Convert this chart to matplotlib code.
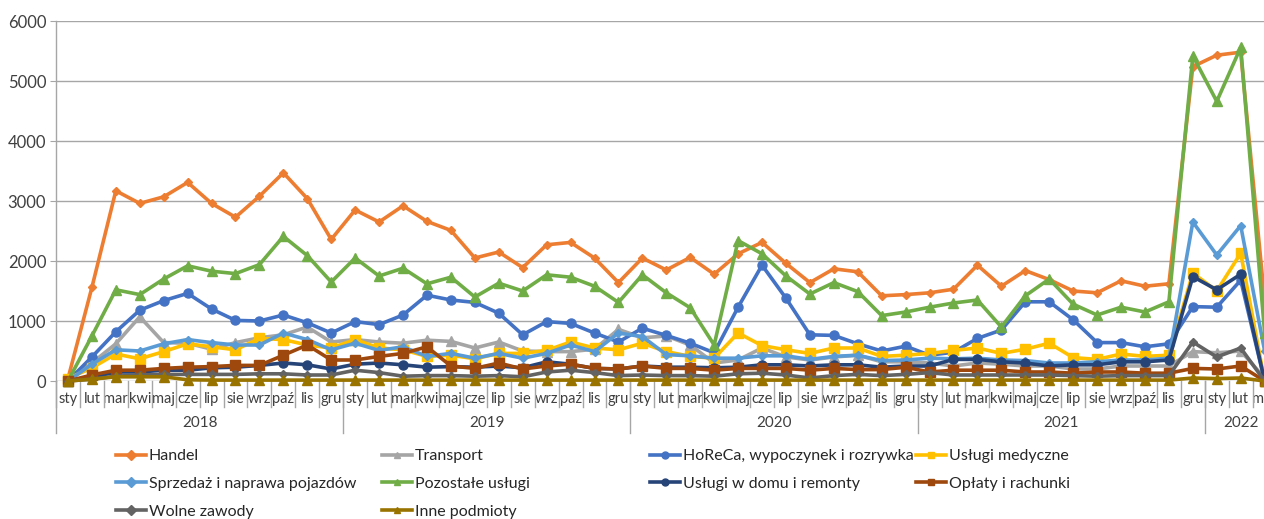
import matplotlib
matplotlib.use("Agg")
import matplotlib.pyplot as plt
from matplotlib.lines import Line2D

plt.rcParams['font.family'] = ['Lato', 'DejaVu Sans']

months = ["sty", "lut", "mar", "kwi", "maj", "cze", "lip", "sie", "wrz", "paź", "lis", "gru"]
years = ["2018", "2019", "2020", "2021", "2022"]
months_per_year = [12, 12, 12, 12, 3]
month_labels = months * 4 + ["sty", "lut", "mar"]

handel = [40, 1560, 3170, 2960, 3070, 3310, 2960, 2730, 3080, 3470, 3040, 2360,
          2850, 2650, 2920, 2660, 2510, 2050, 2150, 1890, 2270, 2310, 2050, 1640,
          2050, 1850, 2060, 1780, 2120, 2310, 1960, 1640, 1870, 1820, 1420, 1440,
          1470, 1530, 1930, 1580, 1840, 1690, 1500, 1470, 1670, 1580, 1620, 5240,
          5430, 5480, 1350]
transport = [0, 300, 620, 1070, 640, 630, 530, 640, 720, 770, 900, 650,
             690, 650, 630, 680, 660, 550, 650, 500, 490, 490, 530, 860,
             720, 750, 600, 300, 350, 550, 400, 350, 400, 430, 320, 320,
             300, 250, 300, 280, 250, 250, 200, 200, 250, 250, 250, 490,
             470, 500, 50]
horeca = [0, 400, 820, 1180, 1340, 1460, 1200, 1010, 1000, 1100, 970, 800,
          990, 940, 1100, 1430, 1350, 1310, 1130, 770, 990, 960, 800, 650,
          880, 760, 630, 470, 1230, 1930, 1380, 770, 760, 620, 500, 580,
          430, 480, 710, 850, 1320, 1320, 1020, 640, 640, 570, 620, 1240,
          1230, 1680, 0]
medyczne = [40, 220, 450, 370, 490, 620, 570, 520, 710, 690, 600, 550,
            690, 550, 520, 410, 430, 370, 460, 460, 510, 650, 550, 520,
            630, 490, 410, 380, 800, 590, 520, 460, 550, 550, 410, 430,
            460, 510, 550, 460, 530, 630, 390, 360, 450, 410, 430, 1800,
            1500, 2130, 0]
sprzedaz = [0, 280, 520, 500, 620, 690, 640, 600, 600, 800, 690, 520,
            630, 510, 570, 410, 460, 380, 460, 380, 460, 600, 490, 800,
            740, 440, 420, 380, 380, 420, 420, 360, 410, 430, 340, 350,
            380, 370, 380, 350, 340, 300, 300, 320, 350, 350, 380, 2650,
            2100, 2590, 500]
pozostale = [0, 750, 1520, 1440, 1700, 1920, 1830, 1790, 1940, 2410, 2090, 1650,
             2050, 1750, 1880, 1620, 1730, 1400, 1630, 1500, 1770, 1730, 1580, 1310,
             1770, 1470, 1220, 600, 2340, 2120, 1750, 1450, 1640, 1490, 1090, 1150,
             1230, 1300, 1350, 900, 1420, 1700, 1280, 1100, 1230, 1150, 1320, 5420,
             4660, 5560, 800]
dom = [0, 60, 150, 150, 180, 180, 220, 230, 260, 300, 270, 200,
       280, 300, 270, 230, 240, 230, 250, 220, 320, 280, 210, 200,
       250, 230, 230, 220, 230, 270, 270, 250, 270, 270, 230, 250,
       250, 360, 360, 320, 300, 250, 270, 270, 320, 320, 350, 1740,
       1520, 1780, 0]
oplaty = [0, 100, 180, 180, 210, 230, 240, 260, 260, 430, 600, 350,
          350, 410, 460, 570, 250, 210, 300, 200, 250, 280, 210, 200,
          250, 210, 210, 180, 210, 210, 210, 180, 210, 190, 190, 230,
          150, 180, 180, 180, 150, 150, 130, 150, 150, 130, 130, 210,
          200, 250, 0]
wolne = [0, 30, 80, 100, 110, 110, 110, 110, 120, 120, 100, 100,
         180, 140, 80, 90, 90, 80, 90, 70, 150, 180, 140, 90,
         100, 90, 90, 80, 120, 130, 100, 50, 90, 110, 90, 110,
         140, 100, 100, 100, 100, 100, 90, 80, 90, 90, 90, 650,
         400, 550, 0]
inne = [0, 30, 70, 70, 70, 20, 15, 15, 15, 15, 15, 15,
        15, 15, 15, 15, 15, 15, 15, 15, 15, 15, 15, 15,
        15, 15, 15, 15, 15, 15, 15, 15, 15, 15, 15, 15,
        15, 15, 15, 15, 15, 15, 15, 15, 15, 15, 15, 50,
        40, 50, 0]

series_names = ["Handel", "Transport", "HoReCa, wypoczynek i rozrywka", "Usługi medyczne",
                "Sprzedaż i naprawa pojazdów", "Pozostałe usługi", "Usługi w domu i remonty",
                "Opłaty i rachunki", "Wolne zawody", "Inne podmioty"]
series_values = [handel, transport, horeca, medyczne, sprzedaz, pozostale, dom, oplaty, wolne, inne]
colors = ["#ED7D31", "#A5A5A5", "#4472C4", "#FFC000", "#5B9BD5", "#70AD47",
          "#264478", "#9E480E", "#636363", "#997300"]
markers = ["D", "^", "o", "s", "D", "^", "o", "s", "D", "^"]
msizes = [4, 6.5, 6.5, 6.5, 4, 6.5, 6.5, 6.5, 4, 6.5]

W, H = 1264, 519
fig = plt.figure(figsize=(W / 100, H / 100), dpi=100)
ax_left, ax_right = 56, 1276.6
ax_top, ax_bot = 21, 381
ax = fig.add_axes([ax_left / W, 1 - ax_bot / H, (ax_right - ax_left) / W, (ax_bot - ax_top) / H])

n = len(month_labels)
x = list(range(n))
handles = []
for name, vals, c, m, ms in zip(series_names, series_values, colors, markers, msizes):
    h, = ax.plot(x, vals, color=c, lw=2.6, marker=m, ms=ms, mec=c, mfc=c,
                 label=name, clip_on=False, zorder=3)
    handles.append(h)

ax.set_xlim(-0.5, n - 0.5)
ax.set_ylim(0, 6000)
ax.set_yticks(range(0, 6001, 1000))
ax.grid(axis='y', color='#A6A6A6', lw=1)
ax.set_axisbelow(True)
for s in ['top', 'right', 'bottom']:
    ax.spines[s].set_visible(False)
ax.spines['left'].set_color('#A6A6A6')
ax.spines['left'].set_linewidth(1)
ax.tick_params(axis='y', length=4, color='#A6A6A6', labelsize=12, labelcolor='#404040', pad=3)

ax.set_xticks(x)
ax.set_xticklabels(month_labels, fontsize=10.5, color='#404040')
ax.tick_params(axis='x', length=0, pad=8)

trans = ax.get_xaxis_transform()
axh = ax_bot - ax_top
# month separators
for b in range(n + 1):
    ax.add_line(Line2D([b - 0.5, b - 0.5], [0, -26 / axh], transform=trans,
                       color='#A6A6A6', lw=1, clip_on=False))
# year separators and labels
start = 0
for yr, cnt in zip(years, months_per_year):
    ax.add_line(Line2D([start - 0.5, start - 0.5], [0, -52 / axh], transform=trans,
                       color='#A6A6A6', lw=1, clip_on=False))
    ax.text(start + (cnt - 1) / 2, -42 / axh, yr, transform=trans, ha='center', va='center',
            fontsize=11, color='#404040')
    start += cnt

# legend: 4 uniform columns, rows filled left-to-right
col_x = [116, 382, 650, 916]
ncols = 4
for ci in range(ncols):
    idx = list(range(ci, len(handles), ncols))
    leg = fig.legend([handles[i] for i in idx], [series_names[i] for i in idx],
                     loc='upper left', bbox_to_anchor=(col_x[ci] / W, 1 - 449 / H),
                     frameon=False, fontsize=11.5, handlelength=1.85, handletextpad=0.2,
                     labelspacing=0.85, borderpad=0, borderaxespad=0, labelcolor='#262626')
    for lh in leg.legend_handles:
        lh.set_markersize(5)

fig.savefig("out.png", dpi=100)
